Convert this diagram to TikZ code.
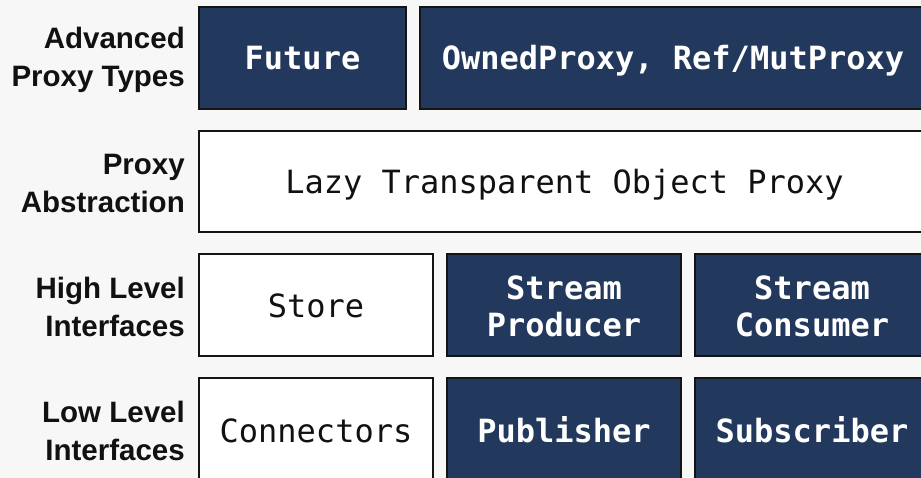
\documentclass[tikz,border=0pt]{standalone}
\usepackage{fontspec}
\setmainfont{Liberation Sans}
\setmonofont{DejaVu Sans Mono}
\definecolor{pagebg}{HTML}{F7F7F7}
\definecolor{navy}{HTML}{22385C}
\definecolor{edge}{HTML}{141414}
\definecolor{ink}{HTML}{111111}
% monospaced text with full-width, fixed word spaces
\newcommand{\monofont}{\ttfamily\fontsize{32}{37}\selectfont\spaceskip=0.6em\relax}
\newcommand{\monobold}{\ttfamily\bfseries\fontsize{32}{37}\selectfont\spaceskip=0.6em\relax}
\tikzset{
  layerbox/.style={draw=edge, line width=2pt, rectangle, inner sep=0pt, align=center,
    minimum height=102pt, text height=28pt, text depth=4pt},
  twoline/.style={text height=65pt, text depth=1pt},
  darkbox/.style={layerbox, fill=navy, text=white, font=\monobold},
  lightbox/.style={layerbox, fill=white, text=ink, font=\monofont},
  layerlabel/.style={anchor=east, align=right, text=ink, inner sep=0pt,
    font=\bfseries\fontsize{29.5}{38}\selectfont}
}
\begin{document}
\begin{tikzpicture}
  \useasboundingbox (0,0) rectangle (921pt,-478pt);
  \clip (0,0) rectangle (921pt,-478pt);
  \fill[pagebg] (0,0) rectangle (921pt,-478pt);

  % row 1: advanced proxy types
  \node[darkbox, minimum width=207pt] (future) at (302.5pt,-58pt) {Future};
  \node[darkbox, minimum width=506pt] (owned) at (673pt,-58pt) {OwnedProxy, Ref/MutProxy};

  % row 2: proxy abstraction
  \node[lightbox, minimum width=731pt, minimum height=101pt] (lazy) at (564.5pt,-181.5pt)
    {Lazy Transparent Object Proxy};

  % row 3: high level interfaces
  \node[lightbox, minimum width=234pt] (store) at (316pt,-305pt) {Store};
  \node[darkbox, twoline, minimum width=234pt] (producer) at (564pt,-305pt) {Stream\\Producer};
  \node[darkbox, twoline, minimum width=234pt] (consumer) at (812pt,-305pt) {Stream\\Consumer};

  % row 4: low level interfaces
  \node[lightbox, minimum width=234pt, minimum height=104pt] (connectors) at (316pt,-430pt) {Connectors};
  \node[darkbox, minimum width=234pt, minimum height=104pt] (publisher) at (564pt,-430pt) {Publisher};
  \node[darkbox, minimum width=234pt, minimum height=104pt] (subscriber) at (812pt,-430pt) {Subscriber};

  % layer labels
  \node[layerlabel] (lab1) at (185pt,-60pt) {Advanced\\Proxy Types};
  \node[layerlabel] (lab2) at (185pt,-183pt) {Proxy\\Abstraction};
  \node[layerlabel] (lab3) at (185pt,-307pt) {High Level\\Interfaces};
  \node[layerlabel] (lab4) at (185pt,-431pt) {Low Level\\Interfaces};
\end{tikzpicture}
\end{document}
